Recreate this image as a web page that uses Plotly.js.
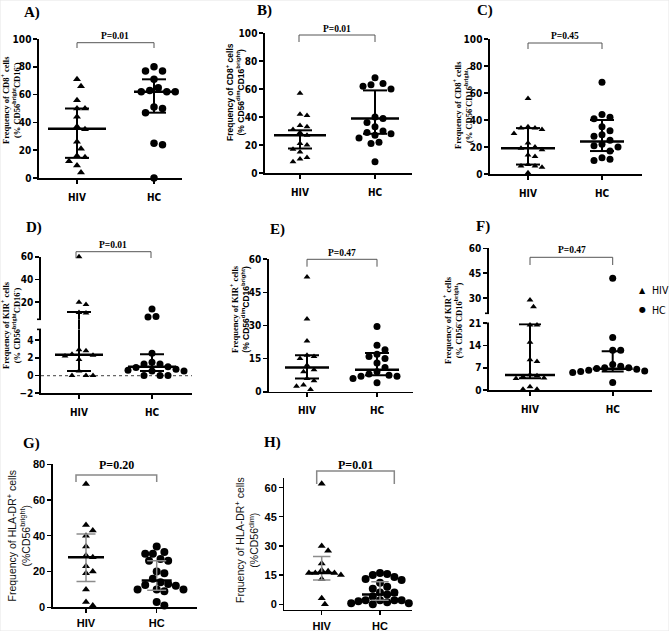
<!DOCTYPE html>
<html><head><meta charset="utf-8">
<script src="https://cdn.plot.ly/plotly-3.0.1.min.js"></script>
<style>html,body{margin:0;padding:0;background:#fff}#chart{width:669px;height:631px}</style>
</head><body><div id="chart"></div>
<script>
// ---------------- DATA ----------------
const groups = ['HIV', 'HC'];
const panelLabels = ['A)', 'B)', 'C)', 'D)', 'E)', 'F)', 'G)', 'H)'];
const pValues = ['P=0.01', 'P=0.01', 'P=0.45', 'P=0.01', 'P=0.47', 'P=0.47', 'P=0.20', 'P=0.01'];

const hivA = [71, 66, 56, 50, 50, 44, 37, 35, 26, 21, 16, 15, 12, 9, 4];
const hcA  = [80, 77, 77, 71, 65, 63, 62, 62, 62, 51, 50, 47, 25, 24, 0];
const statsA = [[14.5, 35.5, 50], [47, 62, 71]];       // [q1, median, q3]

const hivB = [57, 42, 41, 34, 33, 31, 29, 27, 21, 20, 17, 15, 11, 10, 8];
const hcB  = [68, 64, 63, 62, 60, 40, 39, 36, 33, 30, 29, 28, 27, 25, 22, 21, 8];
const statsB = [[17.5, 27, 30.5], [28, 39, 59]];

const hivC = [56, 35, 34, 34, 33, 30, 23, 20, 19, 18, 14, 13, 7, 6, 6, 5, 1];
const hcC  = [68, 44, 42, 41, 35, 32, 29, 28, 25, 22, 21, 20, 17, 12, 11, 10];
const statsC = [[7, 19, 34], [17, 24, 40]];

const hivD = [60, 20, 18, 11, 10.5, 2.9, 2.8, 2.4, 2.3, 2.2, 1.8, 0.5, 0, 0, 0];
const hcD  = [14, 7.5, 7, 2.5, 1.5, 1.3, 1.3, 1.0, 0.9, 0.7, 0.6, 0.5, 0.5, 0, 0, 0];
const statsD = [[0.5, 2.35, 11.5], [0.5, 1.0, 2.4]];

const hivE = [52, 33, 23, 16.5, 16, 15, 12, 10, 9, 6, 5, 3, 2.5, 1];
const hcE  = [29.5, 21, 19, 17, 16, 15, 13, 11, 9, 8, 7.5, 7, 7, 6, 4];
const statsE = [[6, 11, 16.5], [7.5, 10, 17.5]];

const hivF = [29, 25, 20.5, 20.5, 15, 9.5, 9, 4.8, 4.5, 4.2, 3.8, 3.6, 1, 0.2, 0.2];
const hcF  = [42, 16.5, 12.5, 12.5, 8, 7.5, 7, 7, 6.8, 6.5, 6.2, 6, 5.8, 5.6, 5.5, 2.4];
const statsF = [[3.7, 4.7, 20.7], [5.8, 6.7, 12.2]];

const hivG = [69, 46, 43, 40, 34, 29, 28, 23, 20, 19, 10, 3, 1];
const hcG  = [34, 31, 30, 30, 27, 26, 26, 20, 19, 16, 14, 13, 12.5, 12, 10, 10, 10, 9, 3, 1];
const statsG = [[14.5, 28, 41], [9.5, 15, 26]];

const hivH = [62, 30, 27.5, 21, 17.5, 17, 16, 16, 16, 15, 13, 3, 0];
const hcH  = [16, 15.5, 15, 14, 13, 12.5, 11, 9, 8, 6, 6, 5, 4, 2, 2, 2, 2, 1.5, 1, 0.5, 0.5, 0];
const statsH = [[12.5, 16, 24.5], [2, 5, 11.5]];

const yTitlesA = ['Frequency of CD8<sup>+</sup> cells', '(% CD56<sup>bright</sup>CD16<sup>-</sup>)'];
const yTitlesB = ['Frequency of CD8<sup>+</sup> cells', '(% CD56<sup>dim</sup>CD16<sup>bright</sup>)'];
const yTitlesC = ['Frequency of CD8<sup>+</sup> cells', '(% CD56<sup>-</sup>CD16<sup>bright</sup>)'];
const yTitlesD = ['Frequency of KIR<sup>+</sup> cells', '(% CD56<sup>bright</sup>CD16<sup>-</sup>)'];
const yTitlesE = ['Frequency of KIR<sup>+</sup> cells', '(% CD56<sup>dim</sup>CD16<sup>bright</sup>)'];
const yTitlesF = ['Frequency of KIR<sup>+</sup> cells', '(% CD56<sup>-</sup>CD16<sup>bright</sup>)'];
const yTitlesG = ['Frequency of HLA-DR<sup>+</sup> cells', '(%CD56<sup>bright</sup>)'];
const yTitlesH = ['Frquency of HLA-DR<sup>+</sup> cells', '(%CD56<sup>dim</sup>)'];

// ---------------- STYLE / LAYOUT ----------------
const W = 669, H = 631;
const X = p => p / W, Y = p => 1 - p / H;
const SERIF = 'Liberation Serif, Times New Roman, serif';
const SANS = 'Liberation Sans, Arial, sans-serif';
const NARROW = 'Liberation Sans Narrow, Arial Narrow, DejaVu Sans Condensed, sans-serif';

const fSerif9 = {family: SERIF, size: 8.5, color: '#000', weight: 'bold'};
const fSans9 = {family: SANS, size: 8.5, color: '#000', weight: 'bold'};
const fSans11 = {family: SANS, size: 10.5, color: '#111'};
const sansSpan = t => `<span style="font-family:${SANS}">${t}</span>`;

const panels = [
  {data: [hivA, hcA], stats: statsA, yt: yTitlesA, ytF: fSerif9, ytX: 11, ytY: 100,
   labPos: [32, 12], pPos: [115, 36], br: [77, 154, 42.7, 48], xDom: [39, 182], cats: [77, 154],
   segs: [{range: [0, 100], px: [39, 178], ticks: [0, 20, 40, 60, 80, 100]}],
   medW: [29, 20], capW: 12, sizes: [7, 7.5], pack: 1.0, modern: false},
  {data: [hivB, hcB], stats: statsB, yt: yTitlesB, ytF: fSans9, ytX: 235, ytY: 92,
   labPos: [264, 11], pPos: [337, 29], br: [299, 375, 35, 42], xDom: [265, 412], cats: [300, 375],
   segs: [{range: [0, 100], px: [33, 173], ticks: [0, 20, 40, 60, 80, 100]}],
   medW: [26, 24], capW: 12, sizes: [6, 7], pack: 1.0, modern: false},
  {data: [hivC, hcC], stats: statsC, yt: yTitlesC, ytF: fSerif9, ytX: 463, ytY: 105,
   labPos: [485, 11], pPos: [565, 36], br: [528, 602, 43, 49], xDom: [490, 642], cats: [528, 602],
   segs: [{range: [0, 100], px: [39, 174], ticks: [0, 20, 40, 60, 80, 100]}],
   medW: [27, 22], capW: 12, sizes: [6, 7], pack: 1.0, modern: false},
  {data: [hivD, hcD], stats: statsD, yt: yTitlesD, ytF: fSerif9, ytX: 11, ytY: 325,
   labPos: [34, 228], pPos: [113, 245], br: [76, 151, 251.7, 258], xDom: [41, 192], cats: [79, 152],
   segs: [{range: [-2, 5.2], px: [329.4, 393.3], ticks: [-2, 0, 2, 4]},
          {range: [5, 60], px: [256.7, 319.3], ticks: [20, 40, 60]}],
   medW: [24, 24], capW: 12, sizes: [6, 7], pack: 1.0, modern: false, zeroLine: true},
  {data: [hivE, hcE], stats: statsE, yt: [yTitlesE[0], sansSpan(yTitlesE[1])], ytF: fSerif9, ytX: 240, ytY: 309,
   labPos: [277, 229], pPos: [342, 253], br: [307, 377, 259.3, 266.7], xDom: [269, 413], cats: [307, 377],
   segs: [{range: [0, 60], px: [259.3, 391.7], ticks: [0, 15, 30, 45, 60]}],
   medW: [22, 22], capW: 12, sizes: [6, 7], pack: 1.0, modern: false},
  {data: [hivF, hcF], stats: statsF, yt: yTitlesF, ytF: fSerif9, ytX: 453, ytY: 320,
   labPos: [483, 226], pPos: [572, 250], br: [530, 612.7, 257.3, 265], xDom: [489, 652], cats: [530, 612.7],
   segs: [{range: [0, 21], px: [323.3, 390], ticks: [0, 7, 14, 21]},
          {range: [21, 60], px: [248.3, 313.3], ticks: [30, 45, 60]}],
   medW: [25, 20], capW: 11, sizes: [6, 7], pack: 1.0, modern: false, legend: true},
  {data: [hivG, hcG], stats: statsG, yt: yTitlesG, ytF: fSans11, ytX: 17.5, ytY: 536,
   labPos: [31, 443], pPos: [116, 465], br: [76, 156.7, 475, 482], xDom: [52.7, 197], cats: [86, 156.7],
   segs: [{range: [0, 80], px: [464.3, 607.3], ticks: [0, 20, 40, 60, 80]}],
   medW: [18, 15], capW: 9.5, sizes: [7, 8], pack: 0.85, modern: true},
  {data: [hivH, hcH], stats: statsH, yt: yTitlesH, ytF: fSans11, ytX: 246, ytY: 540,
   labPos: [272, 442], pPos: [355, 465], br: [316.7, 394.3, 471, 484], xDom: [284.3, 411.7], cats: [321.7, 380],
   segs: [{range: [-3, 65], px: [478, 610], ticks: [0, 15, 30, 45, 60]}],
   medW: [13, 18], capW: 8.7, sizes: [7, 8], pack: 0.8, modern: true}
];

function segOf(P, v) {
  if (P.segs.length === 1) return 0;
  return v <= P.segs[0].range[1] ? 0 : 1;
}
function toPx(P, v) {
  const s = P.segs[segOf(P, v)];
  return s.px[1] - (v - s.range[0]) / (s.range[1] - s.range[0]) * (s.px[1] - s.px[0]);
}
function swarm(vals, P, d) {
  const order = vals.map((v, i) => i).sort((a, b) => vals[b] - vals[a]);
  const placed = [], off = new Array(vals.length).fill(0);
  order.forEach(i => {
    const y = toPx(P, vals[i]);
    for (let k = 0; k < 80; k++) {
      const c = k === 0 ? 0 : (k % 2 ? 1 : -1) * Math.ceil(k / 2) * d * 0.5;
      if (placed.every(p => Math.hypot(p[0] - c, p[1] - y) >= d)) { off[i] = c; placed.push([c, y]); break; }
    }
  });
  return off;
}

const traces = [];
const layout = {
  width: W, height: H, margin: {l: 0, r: 0, t: 0, b: 0},
  paper_bgcolor: '#fff', plot_bgcolor: 'rgba(0,0,0,0)', showlegend: false,
  shapes: [], annotations: [], hovermode: false
};
let yCount = 0;

panels.forEach((P, i) => {
  const xn = i + 1;
  const xid = xn === 1 ? 'x' : 'x' + xn;
  const xkey = xn === 1 ? 'xaxis' : 'xaxis' + xn;
  const unit = P.cats[1] - P.cats[0];
  const tickFont = P.modern ? {family: SANS, size: 11, color: '#000', weight: 'bold'}
                            : {family: NARROW, size: 10, color: '#000', weight: 'bold'};
  const lw = P.modern ? 1.3 : 1.6;
  const yids = P.segs.map(() => { yCount++; return yCount; });
  const yidStr = n => n === 1 ? 'y' : 'y' + n;
  const ykeyStr = n => n === 1 ? 'yaxis' : 'yaxis' + n;

  layout[xkey] = {
    domain: [X(P.xDom[0]), X(P.xDom[1])],
    range: [(P.xDom[0] - P.cats[0]) / unit, (P.xDom[1] - P.cats[0]) / unit],
    anchor: yidStr(yids[0]), tickvals: [0, 1], ticktext: groups,
    showline: true, linewidth: lw, linecolor: '#000', ticks: 'outside', ticklen: 4, tickwidth: lw,
    tickcolor: '#000', showgrid: false, zeroline: false, tickfont: tickFont, fixedrange: true,
    ticklabelstandoff: P.modern ? 1 : 5
  };
  P.segs.forEach((s, k) => {
    layout[ykeyStr(yids[k])] = {
      domain: [Y(s.px[1]), Y(s.px[0])], range: s.range, anchor: xid,
      tickvals: s.ticks, showline: true, linewidth: lw, linecolor: '#000', ticks: 'outside',
      ticklen: 4, tickwidth: lw, tickcolor: '#000', showgrid: false, zeroline: false,
      tickfont: tickFont, fixedrange: true
    };
  });
  // break ticks on segmented axes
  if (P.segs.length > 1) {
    [P.segs[0].px[0], P.segs[1].px[1]].forEach(py => {
      layout.shapes.push({type: 'line', xref: 'paper', yref: 'paper', x0: X(P.xDom[0] - 4), x1: X(P.xDom[0]),
        y0: Y(py), y1: Y(py), line: {color: '#000', width: lw}});
    });
  }
  if (P.zeroLine) {
    layout.shapes.push({type: 'line', xref: xid + ' domain', yref: yidStr(yids[0]), x0: 0, x1: 1, y0: 0, y1: 0,
      line: {color: '#666', width: 1.2, dash: 'dot'}, layer: 'below'});
  }

  // points
  P.data.forEach((vals, g) => {
    const d = (P.sizes[g] + 1) * P.pack;
    const off = swarm(vals, P, d);
    P.segs.forEach((s, k) => {
      const xs = [], ys = [];
      vals.forEach((v, j) => { if (segOf(P, v) === k) { xs.push(g + off[j] / unit); ys.push(v); } });
      traces.push({type: 'scatter', mode: 'markers', x: xs, y: ys, xaxis: xid, yaxis: yidStr(yids[k]),
        cliponaxis: false, hoverinfo: 'skip',
        marker: {symbol: g === 0 ? 'triangle-up' : 'circle', size: P.sizes[g], color: '#000'}});
    });
  });

  // median & IQR
  P.stats.forEach((st, g) => {
    const [q1, med, q3] = st;
    const mw = P.medW[g] / unit, cw = P.capW / unit;
    const iqrColor = P.modern ? '#8c8c8c' : '#000';
    const iqrW = P.modern ? 1.5 : 2;
    P.segs.forEach((s, k) => {
      const ya = yidStr(yids[k]);
      const inS = v => segOf(P, v) === k;
      const lo = Math.max(q1, s.range[0]), hi = Math.min(q3, s.range[1]);
      if (hi > lo) {
        traces.push({type: 'scatter', mode: 'lines', x: [g, g], y: [lo, hi], xaxis: xid, yaxis: ya,
          hoverinfo: 'skip', line: {color: iqrColor, width: iqrW}});
      }
      [q1, q3].forEach(q => {
        if (inS(q)) traces.push({type: 'scatter', mode: 'lines', x: [g - cw, g + cw], y: [q, q], xaxis: xid, yaxis: ya,
          hoverinfo: 'skip', line: {color: iqrColor, width: iqrW}});
      });
      if (inS(med)) traces.push({type: 'scatter', mode: 'lines', x: [g - mw, g + mw], y: [med, med], xaxis: xid, yaxis: ya,
        hoverinfo: 'skip', line: {color: '#000', width: 2.5}});
    });
    if (P.segs.length > 1 && q1 <= P.segs[0].range[1] && q3 > P.segs[1].range[0]) {
      layout.shapes.push({type: 'line', xref: xid, yref: 'paper', x0: g, x1: g,
        y0: Y(P.segs[0].px[0]), y1: Y(P.segs[1].px[1]), line: {color: iqrColor, width: iqrW}});
    }
  });

  // p-value bracket
  const [bx0, bx1, by, bt] = P.br;
  const bc = P.modern ? '#888' : '#555';
  const bw = P.modern ? 1.5 : 1;
  layout.shapes.push({type: 'path', xref: 'paper', yref: 'paper',
    path: `M ${X(bx0)} ${Y(bt)} L ${X(bx0)} ${Y(by)} L ${X(bx1)} ${Y(by)} L ${X(bx1)} ${Y(bt)}`,
    line: {color: bc, width: bw}});
  layout.annotations.push({xref: 'paper', yref: 'paper', x: X(P.pPos[0]), y: Y(P.pPos[1]),
    text: pValues[i], showarrow: false, xanchor: 'center', yanchor: 'middle',
    font: {family: SERIF, size: P.modern ? 12 : 9.5, color: '#000', weight: 'bold'}});

  // panel label
  layout.annotations.push({xref: 'paper', yref: 'paper', x: X(P.labPos[0]), y: Y(P.labPos[1]),
    text: panelLabels[i], showarrow: false, xanchor: 'center', yanchor: 'middle',
    font: {family: SERIF, size: 15, color: '#000', weight: 'bold'}});

  // y title (two lines)
  layout.annotations.push({xref: 'paper', yref: 'paper', x: X(P.ytX), y: Y(P.ytY),
    text: P.yt.join('<br>'), showarrow: false, textangle: -90, xanchor: 'center', yanchor: 'middle',
    align: 'center', font: P.ytF});

  if (P.legend) {
    const items = [['\u25B2', groups[0], 290], ['\u25CF', groups[1], 309.5]];
    items.forEach(([sym, lab, py]) => {
      layout.annotations.push({xref: 'paper', yref: 'paper', x: X(642), y: Y(py), text: sym, showarrow: false,
        xanchor: 'center', yanchor: 'middle', font: {family: 'DejaVu Sans', size: 8, color: '#000'}});
      layout.annotations.push({xref: 'paper', yref: 'paper', x: X(650), y: Y(py), text: lab, showarrow: false,
        xanchor: 'left', yanchor: 'middle', font: {family: NARROW, size: 10.5, color: '#000'}});
    });
  }
});

// faint outer frame
layout.shapes.push({type: 'rect', xref: 'paper', yref: 'paper', x0: 0, x1: 1, y0: 0, y1: 1,
  line: {color: '#e6e6e6', width: 1}});

Plotly.newPlot('chart', traces, layout, {staticPlot: true, displayModeBar: false});
</script>
</body></html>
